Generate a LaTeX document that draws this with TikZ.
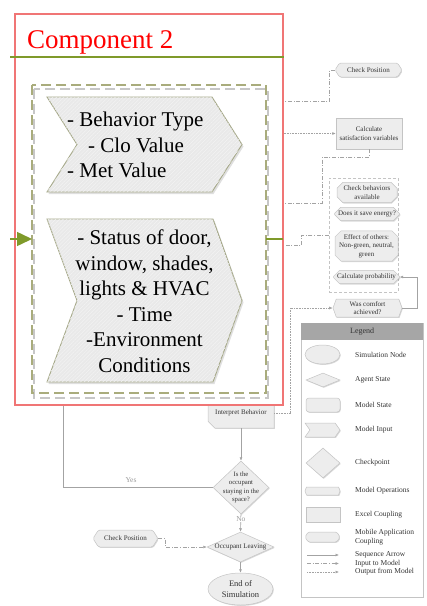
\documentclass[tikz,border=0pt]{standalone}
\usepackage{fontspec}
\setmainfont{Liberation Serif}
\usetikzlibrary{shapes.geometric,shapes.misc,shapes.symbols,arrows.meta,shadows,patterns.meta,calc}
\pgfdeclarelayer{front}
\pgfsetlayers{main,front}

\definecolor{compred}{HTML}{F07575}
\definecolor{olivegreen}{HTML}{7F9A2A}
\definecolor{olivedash}{HTML}{A9AC7C}
\definecolor{chevline}{HTML}{A5A888}
\definecolor{chevfill}{HTML}{E9E9E9}
\definecolor{chevstripe}{HTML}{F3F3F3}
\definecolor{shfill}{HTML}{EDEDED}
\definecolor{shline}{HTML}{C4C4C4}
\definecolor{wiregray}{HTML}{A3A3A3}
\definecolor{legendhead}{HTML}{A6A6A6}
\definecolor{labelgray}{HTML}{9A9A9A}
\definecolor{inktext}{HTML}{333333}

\tikzset{
  wire/.style={draw=wiregray, line width=0.6pt},
  tipped/.style={-{Latex[length=3.5pt,width=3pt]}},
  inpline/.style={wire, dash pattern=on 4pt off 1.6pt on 1pt off 1.6pt},
  outline/.style={wire, dash pattern=on 0.8pt off 0.8pt},
  soft/.style={drop shadow={shadow xshift=0.8pt, shadow yshift=-0.9pt, opacity=0.3}},
  smalltext/.style={font=\fontsize{7}{8.4}\selectfont, text=inktext},
  flowbase/.style={draw=shline, fill=shfill, line width=0.5pt, soft, inner sep=0.5pt,
                   smalltext, align=center},
  opbox/.style={flowbase, signal, signal to=east and west, signal pointer angle=140},
  mobbox/.style={flowbase, signal, signal to=east and west, signal pointer angle=115, rounded corners=1.5pt},
  cutbox/.style={flowbase, chamfered rectangle, chamfered rectangle xsep=3pt},
  xlbox/.style={flowbase, rectangle},
  statebox/.style={flowbase, rectangle, rounded corners=3pt},
  checkbox/.style={flowbase, diamond, inner sep=0pt},
  simnode/.style={flowbase, ellipse, inner sep=0pt},
  inbox/.style={flowbase, signal, signal from=west, signal to=east, signal pointer angle=110},
  intbox/.style={flowbase, chamfered rectangle, chamfered rectangle corners={south west}, chamfered rectangle xsep=5pt},
  legtext/.style={font=\fontsize{7.5}{9}\selectfont, text=inktext, anchor=west, align=left, inner sep=0pt},
  bigtext/.style={font=\fontsize{21}{25.5}\selectfont},
  chevshape/.style={fill=chevfill, draw=chevline, line width=0.9pt,
                    postaction={pattern={Lines[angle=45,distance=2.6pt,line width=0.5pt]}, pattern color=chevstripe},
                    drop shadow={shadow xshift=1.5pt, shadow yshift=-2pt, opacity=0.25}},
  greenrule/.style={draw=olivegreen, line width=1.6pt},
}

\begin{document}
\begin{tikzpicture}[x=1pt,y=-1pt]
\useasboundingbox (0,0) rectangle (427,606);

% ---------- right-hand flow ----------
\node[mobbox, minimum width=67pt, minimum height=14pt] (cpA) at (368.5,70) {Check Position};
\node[xlbox, minimum width=66pt, minimum height=31pt] (calc) at (369,133.5) {Calculate\\satisfaction variables};
\node[draw=shline, line width=0.6pt, dash pattern=on 3pt off 2pt, minimum width=69pt, minimum height=114pt, inner sep=0pt] (grp) at (363.5,235) {};
\node[cutbox, minimum width=60pt, minimum height=19pt] (chk) at (367,192.5) {Check behaviors\\available};
\node[cutbox, minimum width=60pt, minimum height=12pt] (sav) at (367,214) {Does it save energy?};
\node[cutbox, minimum width=63pt, minimum height=28pt] (eff) at (366.5,246) {Effect of others:\\Non-green, neutral,\\green};
\node[cutbox, minimum width=63pt, minimum height=11pt] (prob) at (366.5,277) {Calculate probability};
\node[opbox, minimum width=69pt, minimum height=18pt] (comf) at (367.5,308) {Was comfort\\achieved?};

% ---------- lower flow ----------
\node[intbox, minimum width=66pt, minimum height=30pt] (interp) at (241,413) {Interpret Behavior};
\node[checkbox, minimum width=56pt, minimum height=53pt] (stay) at (241,487.5) {};
\node[font=\fontsize{6.7}{8.3}\selectfont, text=inktext, align=center, inner sep=0pt] (staytxt) at (stay) {Is the\\occupant\\staying in the\\space?};
\node[checkbox, minimum width=67pt, minimum height=30pt] (leave) at (240.5,547) {};
\node[smalltext, inner sep=0pt] (leavetxt) at (leave) {Occupant Leaving};
\node[simnode, minimum width=65pt, minimum height=32pt, font=\fontsize{8.5}{10.5}\selectfont] (endsim) at (240.5,589) {End of\\Simulation};
\node[mobbox, minimum width=65pt, minimum height=17pt] (cpB) at (125.5,538.5) {Check Position};

% ends of the connectors that run into the component box
\coordinate (cpAin) at (282,101);
\coordinate (calcout) at (282,133.5);
\coordinate (calcbend) at (322,203);
\coordinate (calcin) at (282,203);
\coordinate (grpin) at (282,245);
\coordinate (yesin) at (63,404);

% ---------- connectors ----------
\draw[inpline] (cpA.west) -- ++(-5,0) |- (cpAin);
\draw[outline, tipped] (calcout) -- (calc.west);
\draw[inpline] (calc.south) -- ++(0,8) -| (calcbend) -- (calcin);
\draw[inpline] (grp.west) -- ++(-27,0) |- (grpin);
\draw[wire, tipped] (comf.east) -- ++(15,0) |- (prob.east);
\draw[outline, tipped] (interp.east) -- ++(16,0) |- (comf.west);
\draw[wire, tipped] (interp.south) -- (stay.north);
\draw[wire] (stay.west) -| (yesin);
\node[font=\fontsize{7.5}{9}\selectfont, text=labelgray] (yeslbl) at (131,480) {Yes};
\draw[wire, tipped] (stay.south) -- (leave.north)
  node[pos=0.25, fill=white, inner sep=0.5pt, font=\fontsize{7.5}{9}\selectfont, text=labelgray] (nolbl) {No};
\draw[wire, tipped] (leave.south) -- (endsim.north);
\draw[inpline, tipped] (cpB.east) -- ++(7,0) |- (leave.west);

% ---------- legend ----------
\node[draw=shline, line width=0.6pt, fill=white, soft, minimum width=122pt, minimum height=274pt, anchor=north west, inner sep=0pt] (legend) at (301,323) {};
\node[fill=legendhead, minimum width=122pt, minimum height=17pt, anchor=north west, inner sep=0pt, font=\fontsize{8}{9}\selectfont, text=inktext] (leghead) at (301,323) {Legend};
\node[simnode, minimum width=35pt, minimum height=19pt] (lgsim) at (322.5,354.5) {};
\node[legtext] (lgsimt) at (355,354.5) {Simulation Node};
\node[checkbox, minimum width=34pt, minimum height=14pt] (lgagent) at (323,380) {};
\node[legtext] (lgagentt) at (355,380) {Agent State};
\node[statebox, minimum width=34pt, minimum height=14pt] (lgstate) at (323,405) {};
\node[legtext] (lgstatet) at (355,405) {Model State};
\node[inbox, minimum width=35pt, minimum height=14pt] (lginput) at (322.5,430) {};
\node[legtext] (lginputt) at (355,430) {Model Input};
\node[checkbox, minimum width=34pt, minimum height=30pt] (lgcheck) at (323,463) {};
\node[legtext] (lgcheckt) at (355,463) {Checkpoint};
\node[opbox, minimum width=35pt, minimum height=8pt, inner sep=0pt] (lgops) at (322.5,491) {};
\node[legtext] (lgopst) at (355,491) {Model Operations};
\node[xlbox, minimum width=34pt, minimum height=15pt] (lgexcel) at (323,514.5) {};
\node[legtext] (lgexcelt) at (355,514.5) {Excel Coupling};
\node[mobbox, minimum width=35pt, minimum height=10pt, inner sep=0pt] (lgmob) at (322.5,537) {};
\node[legtext] (lgmobt) at (355,537) {Mobile Application\\Coupling};
\coordinate (lgseqa) at (307,555);   \coordinate (lgseqb) at (339,555);
\coordinate (lginpa) at (307,563.5); \coordinate (lginpb) at (339,563.5);
\coordinate (lgouta) at (307,572);   \coordinate (lgoutb) at (339,572);
\draw[wire, tipped] (lgseqa) -- (lgseqb);
\draw[inpline, tipped] (lginpa) -- (lginpb);
\draw[outline, tipped] (lgouta) -- (lgoutb);
\node[legtext] (lgseqt) at (355,555) {Sequence Arrow};
\node[legtext] (lginpt) at (355,563.5) {Input to Model};
\node[legtext] (lgoutt) at (355,572) {Output from Model};

% ---------- component box (drawn over the connectors) ----------
\begin{pgfonlayer}{front}
\node[draw=compred, line width=1.6pt, fill=white,
      drop shadow={shadow xshift=1pt, shadow yshift=-1.5pt, opacity=0.25},
      minimum width=268pt, minimum height=391pt, anchor=north west, inner sep=0pt] (comp) at (14,13) {};
\draw[greenrule] (10,57) -- (284,57);
\node[text=red, font=\fontsize{27}{30}\selectfont, anchor=base west, inner sep=0pt] (comptitle) at (27,48) {Component 2};

% dashed input frame with its grey shadow
\draw[draw=black!22, line width=1.1pt, dash pattern=on 10pt off 5pt] (34,89) rectangle (268,398);
\draw[draw=olivedash, line width=1.1pt, dash pattern=on 10pt off 5pt] (32,85) rectangle (266,393);

% model inputs
\path[chevshape] (47,97) -- (212,97) -- (242,144.5) -- (212,192) -- (47,192) -- (77,144.5) -- cycle;
\path[chevshape] (47,219) -- (213,219) -- (242,300.5) -- (213,382) -- (47,382) -- (77,300.5) -- cycle;
\node[bigtext, align=left, anchor=west, inner sep=0pt] (behtxt) at (67,145) {- Behavior Type\\\hspace{21pt}- Clo Value\\- Met Value};
\node[bigtext, align=center, inner sep=0pt] (stattxt) at (144.5,301) {- Status of door,\\window, shades,\\lights \& HVAC\\- Time\\-Environment\\Conditions};

% entry and exit of the component
\coordinate (entrya) at (10,239); \coordinate (entryb) at (32,239);
\coordinate (exita) at (266,239); \coordinate (exitb) at (283,239);
\draw[greenrule, line width=1.5pt, -{Triangle[length=15pt,width=14pt]}] (entrya) -- (entryb);
\draw[greenrule, line width=1.5pt] (exita) -- (exitb);
\end{pgfonlayer}
\end{tikzpicture}
\end{document}
